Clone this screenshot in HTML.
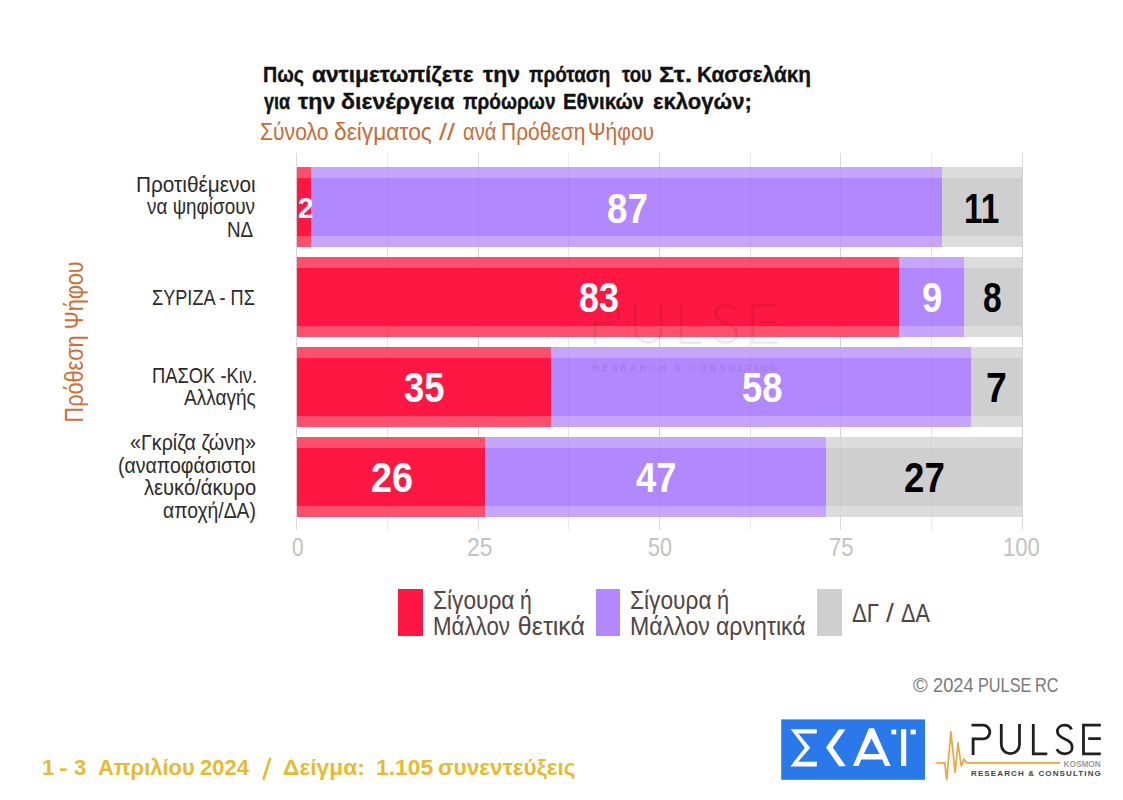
<!DOCTYPE html>
<html><head><meta charset="utf-8"><style>
html,body{margin:0;padding:0;background:#fff;}
body{width:1123px;height:800px;position:relative;overflow:hidden;font-family:"Liberation Sans",sans-serif;}
.t{position:absolute;white-space:nowrap;}
.r{position:absolute;}
</style></head><body>
<div class="r" style="left:296.40px;top:153px;width:1px;height:377px;background:#d9d9d9"></div>
<div class="r" style="left:387.06px;top:153px;width:1px;height:377px;background:#ebebeb"></div>
<div class="r" style="left:477.72px;top:153px;width:1px;height:377px;background:#d9d9d9"></div>
<div class="r" style="left:568.39px;top:153px;width:1px;height:377px;background:#ebebeb"></div>
<div class="r" style="left:659.05px;top:153px;width:1px;height:377px;background:#d9d9d9"></div>
<div class="r" style="left:749.71px;top:153px;width:1px;height:377px;background:#ebebeb"></div>
<div class="r" style="left:840.38px;top:153px;width:1px;height:377px;background:#d9d9d9"></div>
<div class="r" style="left:931.04px;top:153px;width:1px;height:377px;background:#ebebeb"></div>
<div class="r" style="left:1021.70px;top:153px;width:1px;height:377px;background:#d9d9d9"></div>
<div class="r" style="left:296.90px;top:167px;width:14.51px;height:80px;background:#ff4f6e"></div>
<div class="r" style="left:296.90px;top:178px;width:14.51px;height:58px;background:#ff1744"></div>
<div class="r" style="left:311.41px;top:167px;width:631.01px;height:80px;background:#c6a5fc"></div>
<div class="r" style="left:311.41px;top:178px;width:631.01px;height:58px;background:#b188fd"></div>
<div class="r" style="left:942.42px;top:167px;width:79.78px;height:80px;background:#dcdcdc"></div>
<div class="r" style="left:942.42px;top:178px;width:79.78px;height:58px;background:#cfcfcf"></div>
<div class="r" style="left:296.90px;top:257px;width:602.00px;height:80px;background:#ff4f6e"></div>
<div class="r" style="left:296.90px;top:268px;width:602.00px;height:58px;background:#ff1744"></div>
<div class="r" style="left:898.90px;top:257px;width:65.28px;height:80px;background:#c6a5fc"></div>
<div class="r" style="left:898.90px;top:268px;width:65.28px;height:58px;background:#b188fd"></div>
<div class="r" style="left:964.18px;top:257px;width:58.02px;height:80px;background:#dcdcdc"></div>
<div class="r" style="left:964.18px;top:268px;width:58.02px;height:58px;background:#cfcfcf"></div>
<div class="r" style="left:296.90px;top:347px;width:253.86px;height:80px;background:#ff4f6e"></div>
<div class="r" style="left:296.90px;top:358px;width:253.86px;height:58px;background:#ff1744"></div>
<div class="r" style="left:550.75px;top:347px;width:420.67px;height:80px;background:#c6a5fc"></div>
<div class="r" style="left:550.75px;top:358px;width:420.67px;height:58px;background:#b188fd"></div>
<div class="r" style="left:971.43px;top:347px;width:50.77px;height:80px;background:#dcdcdc"></div>
<div class="r" style="left:971.43px;top:358px;width:50.77px;height:58px;background:#cfcfcf"></div>
<div class="r" style="left:296.90px;top:437px;width:188.58px;height:80px;background:#ff4f6e"></div>
<div class="r" style="left:296.90px;top:448px;width:188.58px;height:58px;background:#ff1744"></div>
<div class="r" style="left:485.48px;top:437px;width:340.89px;height:80px;background:#c6a5fc"></div>
<div class="r" style="left:485.48px;top:448px;width:340.89px;height:58px;background:#b188fd"></div>
<div class="r" style="left:826.37px;top:437px;width:195.83px;height:80px;background:#dcdcdc"></div>
<div class="r" style="left:826.37px;top:448px;width:195.83px;height:58px;background:#cfcfcf"></div>
<div class="r" style="left:296.40px;top:167px;width:1px;height:350px;background:rgba(0,0,0,0.025)"></div>
<div class="r" style="left:387.06px;top:167px;width:1px;height:350px;background:rgba(0,0,0,0.025)"></div>
<div class="r" style="left:477.72px;top:167px;width:1px;height:350px;background:rgba(0,0,0,0.025)"></div>
<div class="r" style="left:568.39px;top:167px;width:1px;height:350px;background:rgba(0,0,0,0.025)"></div>
<div class="r" style="left:659.05px;top:167px;width:1px;height:350px;background:rgba(0,0,0,0.025)"></div>
<div class="r" style="left:749.71px;top:167px;width:1px;height:350px;background:rgba(0,0,0,0.025)"></div>
<div class="r" style="left:840.38px;top:167px;width:1px;height:350px;background:rgba(0,0,0,0.025)"></div>
<div class="r" style="left:931.04px;top:167px;width:1px;height:350px;background:rgba(0,0,0,0.025)"></div>
<div class="r" style="left:1021.70px;top:167px;width:1px;height:350px;background:rgba(0,0,0,0.025)"></div>
<svg style="position:absolute;left:0;top:0;opacity:0.08" width="1123" height="800" viewBox="0 0 1123 800">
<g transform="translate(533.4,292.1) scale(1.43,1.3)">
<g fill="none" stroke="#000" stroke-width="2.0">
<path d="M41.5,10.2 H53 A6.85,6.85 0 0 1 53,23.9 H43.1 V40.1"/>
<path d="M71.3,8.9 V29.6 A9.1,9.1 0 0 0 89.5,29.6 V8.9"/>
<path d="M103.3,8.9 V38.9 H117.3"/>
<path d="M141.6,14.3 C140.2,11.6 137.6,10.2 134.6,10.2 C130.4,10.2 127.4,12.9 127.4,16.6 C127.4,20.6 130.8,22.4 134.8,24 C139,25.7 142.2,27.8 142.2,32.2 C142.2,36.2 139,38.8 134.6,38.8 C131,38.8 128.2,37 126.8,34.2"/>
<path d="M170.8,10.2 H153.5 V38.8 H170.8 M158.2,23.6 H170.8"/>
</g>
<text x="41" y="61" font-family="Liberation Sans" font-size="7" font-weight="bold" fill="#000" textLength="129.8" lengthAdjust="spacing">RESEARCH &amp; CONSULTING</text>
</g>
</svg>
<div class="t" style="left:262.57px;top:64.05px;font-size:21.8px;line-height:21.8px;color:#111;font-weight:bold;transform:scaleX(0.9011);transform-origin:0 0;-webkit-text-stroke:0.35px #111">Πως</div>
<div class="t" style="left:312.12px;top:64.05px;font-size:21.8px;line-height:21.8px;color:#111;font-weight:bold;transform:scaleX(1.0409);transform-origin:0 0;-webkit-text-stroke:0.35px #111">αντιμετωπίζετε</div>
<div class="t" style="left:483.20px;top:64.05px;font-size:21.8px;line-height:21.8px;color:#111;font-weight:bold;transform:scaleX(1.0540);transform-origin:0 0;-webkit-text-stroke:0.35px #111">την</div>
<div class="t" style="left:529.18px;top:64.05px;font-size:21.8px;line-height:21.8px;color:#111;font-weight:bold;transform:scaleX(0.8683);transform-origin:0 0;-webkit-text-stroke:0.35px #111">πρόταση</div>
<div class="t" style="left:621.50px;top:64.05px;font-size:21.8px;line-height:21.8px;color:#111;font-weight:bold;transform:scaleX(0.8522);transform-origin:0 0;-webkit-text-stroke:0.35px #111">του</div>
<div class="t" style="left:659.43px;top:64.05px;font-size:21.8px;line-height:21.8px;color:#111;font-weight:bold;transform:scaleX(1.1585);transform-origin:0 0;-webkit-text-stroke:0.35px #111">Στ.</div>
<div class="t" style="left:696.51px;top:64.05px;font-size:21.8px;line-height:21.8px;color:#111;font-weight:bold;transform:scaleX(0.9538);transform-origin:0 0;-webkit-text-stroke:0.35px #111">Κασσελάκη</div>
<div class="t" style="left:263.70px;top:90.55px;font-size:21.8px;line-height:21.8px;color:#111;font-weight:bold;transform:scaleX(0.8317);transform-origin:0 0;-webkit-text-stroke:0.35px #111">για</div>
<div class="t" style="left:297.90px;top:90.55px;font-size:21.8px;line-height:21.8px;color:#111;font-weight:bold;transform:scaleX(1.0628);transform-origin:0 0;-webkit-text-stroke:0.35px #111">την</div>
<div class="t" style="left:341.00px;top:90.55px;font-size:21.8px;line-height:21.8px;color:#111;font-weight:bold;transform:scaleX(1.0607);transform-origin:0 0;-webkit-text-stroke:0.35px #111">διενέργεια</div>
<div class="t" style="left:462.98px;top:90.55px;font-size:21.8px;line-height:21.8px;color:#111;font-weight:bold;transform:scaleX(0.8735);transform-origin:0 0;-webkit-text-stroke:0.35px #111">πρόωρων</div>
<div class="t" style="left:562.83px;top:90.55px;font-size:21.8px;line-height:21.8px;color:#111;font-weight:bold;transform:scaleX(0.9365);transform-origin:0 0;-webkit-text-stroke:0.35px #111">Εθνικών</div>
<div class="t" style="left:652.84px;top:90.55px;font-size:21.8px;line-height:21.8px;color:#111;font-weight:bold;transform:scaleX(1.0126);transform-origin:0 0;-webkit-text-stroke:0.35px #111">εκλογών;</div>
<div class="t" style="left:260.38px;top:120.62px;font-size:23.6px;line-height:23.6px;color:#cc6a35;font-weight:normal;transform:scaleX(0.8943);transform-origin:0 0;">Σύνολο</div>
<div class="t" style="left:334.44px;top:120.62px;font-size:23.6px;line-height:23.6px;color:#cc6a35;font-weight:normal;transform:scaleX(0.9644);transform-origin:0 0;">δείγματος</div>
<div class="t" style="left:439.10px;top:120.62px;font-size:23.6px;line-height:23.6px;color:#cc6a35;font-weight:normal;transform:scaleX(1.2231);transform-origin:0 0;">//</div>
<div class="t" style="left:462.55px;top:120.62px;font-size:23.6px;line-height:23.6px;color:#cc6a35;font-weight:normal;transform:scaleX(0.8537);transform-origin:0 0;">ανά</div>
<div class="t" style="left:500.92px;top:120.62px;font-size:23.6px;line-height:23.6px;color:#cc6a35;font-weight:normal;transform:scaleX(0.8885);transform-origin:0 0;">Πρόθεση</div>
<div class="t" style="left:588.04px;top:120.62px;font-size:23.6px;line-height:23.6px;color:#cc6a35;font-weight:normal;transform:scaleX(0.8912);transform-origin:0 0;">Ψήφου</div>
<div class="t" style="left:135.53px;top:173.95px;font-size:21.8px;line-height:21.8px;color:#2b2b2b;font-weight:normal;transform:scaleX(0.9537);transform-origin:0 0;">Προτιθέμενοι</div>
<div class="t" style="left:147.20px;top:196.25px;font-size:21.8px;line-height:21.8px;color:#2b2b2b;font-weight:normal;transform:scaleX(0.8671);transform-origin:0 0;">να ψηφίσουν</div>
<div class="t" style="left:227.49px;top:218.65px;font-size:21.8px;line-height:21.8px;color:#2b2b2b;font-weight:normal;transform:scaleX(0.8643);transform-origin:0 0;">ΝΔ</div>
<div class="t" style="left:151.56px;top:286.55px;font-size:21.8px;line-height:21.8px;color:#2b2b2b;font-weight:normal;transform:scaleX(0.8308);transform-origin:0 0;">ΣΥΡΙΖΑ - ΠΣ</div>
<div class="t" style="left:151.83px;top:365.05px;font-size:21.8px;line-height:21.8px;color:#2b2b2b;font-weight:normal;transform:scaleX(0.8412);transform-origin:0 0;">ΠΑΣΟΚ -Κιν.</div>
<div class="t" style="left:183.70px;top:387.35px;font-size:21.8px;line-height:21.8px;color:#2b2b2b;font-weight:normal;transform:scaleX(0.8724);transform-origin:0 0;">Αλλαγής</div>
<div class="t" style="left:129.70px;top:432.35px;font-size:21.8px;line-height:21.8px;color:#2b2b2b;font-weight:normal;transform:scaleX(0.9033);transform-origin:0 0;">«Γκρίζα ζώνη»</div>
<div class="t" style="left:118.28px;top:454.75px;font-size:21.8px;line-height:21.8px;color:#2b2b2b;font-weight:normal;transform:scaleX(0.8941);transform-origin:0 0;">(αναποφάσιστοι</div>
<div class="t" style="left:143.77px;top:477.15px;font-size:21.8px;line-height:21.8px;color:#2b2b2b;font-weight:normal;transform:scaleX(0.9256);transform-origin:0 0;">λευκό/άκυρο</div>
<div class="t" style="left:163.11px;top:499.55px;font-size:21.8px;line-height:21.8px;color:#2b2b2b;font-weight:normal;transform:scaleX(0.8859);transform-origin:0 0;">αποχή/ΔΑ)</div>
<div class="t" style="left:0;top:0;font-size:25.0px;line-height:25.0px;color:#d26e35;font-weight:normal;transform:translate(61.84px,422.48px) rotate(-90deg) scaleX(0.8661);transform-origin:0 0">Πρόθεση Ψήφου</div>
<div class="t" style="left:291.68px;top:535.21px;font-size:25.5px;line-height:25.5px;color:#c2c2c2;font-weight:normal;transform:scaleX(0.8163);transform-origin:0 0;">0</div>
<div class="t" style="left:466.68px;top:535.21px;font-size:25.5px;line-height:25.5px;color:#c2c2c2;font-weight:normal;transform:scaleX(0.8923);transform-origin:0 0;">25</div>
<div class="t" style="left:648.16px;top:535.21px;font-size:25.5px;line-height:25.5px;color:#c2c2c2;font-weight:normal;transform:scaleX(0.8419);transform-origin:0 0;">50</div>
<div class="t" style="left:829.42px;top:535.21px;font-size:25.5px;line-height:25.5px;color:#c2c2c2;font-weight:normal;transform:scaleX(0.8654);transform-origin:0 0;">75</div>
<div class="t" style="left:1003.27px;top:535.21px;font-size:25.5px;line-height:25.5px;color:#c2c2c2;font-weight:normal;transform:scaleX(0.8658);transform-origin:0 0;">100</div>
<div class="t" style="left:433.02px;top:587.64px;font-size:25.0px;line-height:25.0px;color:#4f4545;font-weight:normal;transform:scaleX(0.9077);transform-origin:0 0;">Σίγουρα</div>
<div class="t" style="left:520.34px;top:587.64px;font-size:25.0px;line-height:25.0px;color:#4f4545;font-weight:normal;transform:scaleX(0.8455);transform-origin:0 0;">ή</div>
<div class="t" style="left:433.32px;top:614.14px;font-size:25.0px;line-height:25.0px;color:#4f4545;font-weight:normal;transform:scaleX(0.8919);transform-origin:0 0;">Μάλλον</div>
<div class="t" style="left:517.85px;top:614.14px;font-size:25.0px;line-height:25.0px;color:#4f4545;font-weight:normal;transform:scaleX(1.0000);transform-origin:0 0;">θετικά</div>
<div class="t" style="left:629.66px;top:587.64px;font-size:25.0px;line-height:25.0px;color:#4f4545;font-weight:normal;transform:scaleX(0.9083);transform-origin:0 0;">Σίγουρα</div>
<div class="t" style="left:716.91px;top:587.64px;font-size:25.0px;line-height:25.0px;color:#4f4545;font-weight:normal;transform:scaleX(0.8727);transform-origin:0 0;">ή</div>
<div class="t" style="left:629.85px;top:614.14px;font-size:25.0px;line-height:25.0px;color:#4f4545;font-weight:normal;transform:scaleX(0.9249);transform-origin:0 0;">Μάλλον</div>
<div class="t" style="left:715.78px;top:614.14px;font-size:25.0px;line-height:25.0px;color:#4f4545;font-weight:normal;transform:scaleX(0.9228);transform-origin:0 0;">αρνητικά</div>
<div class="t" style="left:852.23px;top:600.54px;font-size:25.0px;line-height:25.0px;color:#4f4545;font-weight:normal;transform:scaleX(0.8897);transform-origin:0 0;">ΔΓ</div>
<div class="t" style="left:886.30px;top:600.54px;font-size:25.0px;line-height:25.0px;color:#4f4545;font-weight:normal;transform:scaleX(1.1259);transform-origin:0 0;">/</div>
<div class="t" style="left:900.75px;top:600.54px;font-size:25.0px;line-height:25.0px;color:#4f4545;font-weight:normal;transform:scaleX(0.8646);transform-origin:0 0;">ΔΑ</div>
<div class="t" style="left:913.26px;top:673.62px;font-size:21px;line-height:21px;color:#7a7a7a;font-weight:normal;transform:scaleX(0.9533);transform-origin:0 0;">©</div>
<div class="t" style="left:932.63px;top:673.62px;font-size:21px;line-height:21px;color:#7a7a7a;font-weight:normal;transform:scaleX(0.8711);transform-origin:0 0;">2024</div>
<div class="t" style="left:977.74px;top:673.62px;font-size:21px;line-height:21px;color:#7a7a7a;font-weight:normal;transform:scaleX(0.7743);transform-origin:0 0;">PULSE</div>
<div class="t" style="left:1034.75px;top:673.62px;font-size:21px;line-height:21px;color:#7a7a7a;font-weight:normal;transform:scaleX(0.7712);transform-origin:0 0;">RC</div>
<div class="t" style="left:41.51px;top:757.15px;font-size:21.8px;line-height:21.8px;color:#e8bb2e;font-weight:bold;transform:scaleX(1.0341);transform-origin:0 0;">1</div>
<div class="t" style="left:59.30px;top:757.15px;font-size:21.8px;line-height:21.8px;color:#e8bb2e;font-weight:bold;transform:scaleX(1.2000);transform-origin:0 0;">-</div>
<div class="t" style="left:73.79px;top:757.15px;font-size:21.8px;line-height:21.8px;color:#e8bb2e;font-weight:bold;transform:scaleX(1.0140);transform-origin:0 0;">3</div>
<div class="t" style="left:97.50px;top:757.15px;font-size:21.8px;line-height:21.8px;color:#e8bb2e;font-weight:bold;transform:scaleX(1.0058);transform-origin:0 0;">Απριλίου</div>
<div class="t" style="left:199.64px;top:757.15px;font-size:21.8px;line-height:21.8px;color:#e8bb2e;font-weight:bold;transform:scaleX(1.0073);transform-origin:0 0;">2024</div>
<div class="t" style="left:283.15px;top:757.15px;font-size:21.8px;line-height:21.8px;color:#e8bb2e;font-weight:bold;transform:scaleX(1.0453);transform-origin:0 0;">Δείγμα:</div>
<div class="t" style="left:375.59px;top:757.15px;font-size:21.8px;line-height:21.8px;color:#e8bb2e;font-weight:bold;transform:scaleX(1.0464);transform-origin:0 0;">1.105</div>
<div class="t" style="left:438.32px;top:757.15px;font-size:21.8px;line-height:21.8px;color:#e8bb2e;font-weight:bold;transform:scaleX(1.0394);transform-origin:0 0;">συνεντεύξεις</div>
<div class="t" style="left:297.57px;top:193.03px;font-size:29.5px;line-height:29.5px;color:#fff;font-weight:bold;transform:scaleX(0.9333);transform-origin:0 0;">2</div>
<div class="t" style="left:606.92px;top:188.02px;font-size:42.5px;line-height:42.5px;color:#fff;font-weight:bold;transform:scaleX(0.8633);transform-origin:0 0;">87</div>
<div class="t" style="left:964.09px;top:188.02px;font-size:42.5px;line-height:42.5px;color:#000;font-weight:bold;transform:scaleX(0.7866);transform-origin:0 0;">11</div>
<div class="t" style="left:579.20px;top:277.22px;font-size:42.5px;line-height:42.5px;color:#fff;font-weight:bold;transform:scaleX(0.8438);transform-origin:0 0;">83</div>
<div class="t" style="left:921.71px;top:277.22px;font-size:42.5px;line-height:42.5px;color:#fff;font-weight:bold;transform:scaleX(0.8585);transform-origin:0 0;">9</div>
<div class="t" style="left:983.41px;top:277.22px;font-size:42.5px;line-height:42.5px;color:#000;font-weight:bold;transform:scaleX(0.7905);transform-origin:0 0;">8</div>
<div class="t" style="left:404.14px;top:367.22px;font-size:42.5px;line-height:42.5px;color:#fff;font-weight:bold;transform:scaleX(0.8578);transform-origin:0 0;">35</div>
<div class="t" style="left:742.43px;top:367.22px;font-size:42.5px;line-height:42.5px;color:#fff;font-weight:bold;transform:scaleX(0.8559);transform-origin:0 0;">58</div>
<div class="t" style="left:986.46px;top:367.22px;font-size:42.5px;line-height:42.5px;color:#000;font-weight:bold;transform:scaleX(0.8800);transform-origin:0 0;">7</div>
<div class="t" style="left:370.76px;top:457.22px;font-size:42.5px;line-height:42.5px;color:#fff;font-weight:bold;transform:scaleX(0.8904);transform-origin:0 0;">26</div>
<div class="t" style="left:636.26px;top:457.22px;font-size:42.5px;line-height:42.5px;color:#fff;font-weight:bold;transform:scaleX(0.8536);transform-origin:0 0;">47</div>
<div class="t" style="left:903.70px;top:457.22px;font-size:42.5px;line-height:42.5px;color:#000;font-weight:bold;transform:scaleX(0.8636);transform-origin:0 0;">27</div>
<div class="r" style="left:398.2px;top:589px;width:24.8px;height:47.3px;background:#ff1744"></div>
<div class="r" style="left:595.7px;top:589px;width:24.8px;height:47.3px;background:#b188fd"></div>
<div class="r" style="left:817.2px;top:589px;width:24.8px;height:47.3px;background:#cfcfcf"></div>
<svg style="position:absolute;left:255px;top:752px" width="24" height="32" viewBox="0 0 24 32"><line x1="8.6" y1="27" x2="15" y2="6.8" stroke="#e8bb2e" stroke-width="2.6" stroke-linecap="round"/></svg>
<svg style="position:absolute;left:781px;top:719px" width="144" height="61" viewBox="0 0 144 61">
<rect x="0.2" y="0.4" width="143.8" height="60.4" fill="#2a79ea"/>
<g fill="#fff">
<polygon points="9.8,10.2 35.8,10.2 35.8,14.6 17.2,14.6 29.2,28.8 17.2,42.8 35.8,42.8 35.8,47.4 9.4,47.4 23.8,28.8"/>
<polygon points="64.5,10.2 58,10.2 45,28.6 58,47.2 64.8,47.2 51.8,28.6"/>
<path fill-rule="evenodd" d="M72,47 L88,9.2 L93,9.2 L109.6,47 L104,47 L101.2,40.6 L80.3,40.6 L77.6,47 Z M90.5,19.5 L82.8,35 L98.4,35 Z"/>
<rect x="120" y="10.2" width="5.2" height="36.8"/>
<rect x="110.4" y="10.6" width="4.8" height="4.8"/>
<rect x="129.6" y="10.6" width="5.2" height="4.8"/>
</g>
</svg>
<svg style="position:absolute;left:930px;top:715px" width="180" height="75" viewBox="0 0 180 75">
<g fill="none" stroke="#231f20" stroke-width="2.8">
<path d="M41.5,10.2 H53 A6.85,6.85 0 0 1 53,23.9 H43.1 V40.1"/>
<path d="M71.3,8.9 V29.6 A9.1,9.1 0 0 0 89.5,29.6 V8.9"/>
<path d="M103.3,8.9 V38.9 H117.3"/>
<path d="M141.6,14.3 C140.2,11.6 137.6,10.2 134.6,10.2 C130.4,10.2 127.4,12.9 127.4,16.6 C127.4,20.6 130.8,22.4 134.8,24 C139,25.7 142.2,27.8 142.2,32.2 C142.2,36.2 139,38.8 134.6,38.8 C131,38.8 128.2,37 126.8,34.2"/>
<path d="M170.8,10.2 H153.5 V38.8 H170.8 M158.2,23.6 H170.8"/>
</g>
<path d="M6.4,47.8 H14.8 L16.7,64.7 L20.9,16.9 L25.1,57.2 L28,28.1 L31.2,51 L34,44 L36.4,47.8 H130" fill="none" stroke="#f0a43c" stroke-width="1.7" stroke-linejoin="round"/>
<text x="133.5" y="51.6" font-family="Liberation Sans" font-size="8.6" font-weight="bold" fill="#9c9c9c" textLength="37.3" lengthAdjust="spacingAndGlyphs">KOSMON</text>
<text x="41" y="61" font-family="Liberation Sans" font-size="8" font-weight="bold" fill="#454545" textLength="129.8" lengthAdjust="spacing">RESEARCH &amp; CONSULTING</text>
</svg>
</body></html>
